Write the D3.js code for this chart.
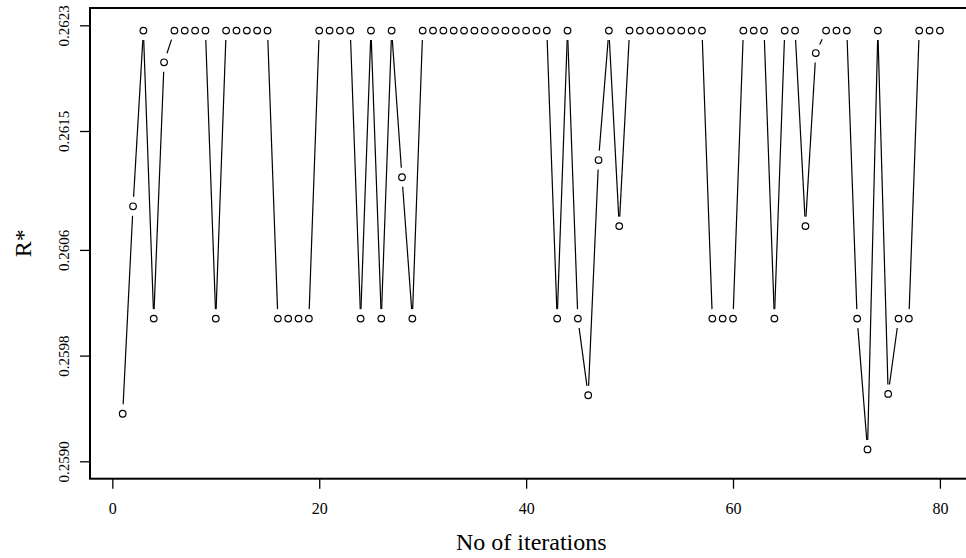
<!DOCTYPE html>
<html>
<head>
<meta charset="utf-8">
<script src="https://cdn.jsdelivr.net/npm/d3@7"></script>
<style>
    body { margin: 0; background: #fff; }
    svg { display: block; }
</style>
</head>
<body>
<svg id="chart" width="966" height="558"></svg>
<script>
// R* value at each iteration
const iterations = d3.range(1, 81);
const rstar = [
    0.25936, 0.26093, 0.26226, 0.26008, 0.26202, 0.26226, 0.26226, 0.26226, 0.26226, 0.26008,
    0.26226, 0.26226, 0.26226, 0.26226, 0.26226, 0.26008, 0.26008, 0.26008, 0.26008, 0.26226,
    0.26226, 0.26226, 0.26226, 0.26008, 0.26226, 0.26008, 0.26226, 0.26115, 0.26008, 0.26226,
    0.26226, 0.26226, 0.26226, 0.26226, 0.26226, 0.26226, 0.26226, 0.26226, 0.26226, 0.26226,
    0.26226, 0.26226, 0.26008, 0.26226, 0.26008, 0.25950, 0.26128, 0.26226, 0.26078, 0.26226,
    0.26226, 0.26226, 0.26226, 0.26226, 0.26226, 0.26226, 0.26226, 0.26008, 0.26008, 0.26008,
    0.26226, 0.26226, 0.26226, 0.26008, 0.26226, 0.26226, 0.26078, 0.26209, 0.26226, 0.26226,
    0.26226, 0.26008, 0.25909, 0.26226, 0.25951, 0.26008, 0.26008, 0.26226, 0.26226, 0.26226
];

const xTicks = [0, 20, 40, 60, 80];
const yTicks = [0.2590, 0.2598, 0.2606, 0.2615, 0.2623];
const yTickLabels = ["0.2590", "0.2598", "0.2606", "0.2615", "0.2623"];

const data = iterations.map((it, i) => ({ x: it, y: rstar[i] }));

const box = { left: 90, right: 972.6, top: 8, bottom: 478.7 };
const serif = '"Liberation Serif"';

const svg = d3.select("#chart");

let x = d3.scaleLinear()
    .domain([-2.16, 83.16])
    .range([box.left, box.right]);

let y = d3.scaleLinear()
    .domain([0.2590, 0.2623])
    .range([461.3, 25.3]);

// plot frame (right side falls outside the picture)
svg.append("rect")
    .attr("x", box.left)
    .attr("y", box.top)
    .attr("width", box.right - box.left)
    .attr("height", box.bottom - box.top)
    .attr("fill", "none")
    .attr("stroke", "#000")
    .attr("stroke-width", 2);

// x axis
let gx = svg.append("g")
    .attr("transform", `translate(0,${box.bottom})`)
    .call(d3.axisBottom(x).tickValues(xTicks).tickSize(10).tickPadding(14).tickFormat(d3.format("d")));
gx.select(".domain").remove();
gx.selectAll(".tick line").attr("stroke", "#000").attr("stroke-width", 1.3);
gx.selectAll(".tick text")
    .attr("fill", "#000")
    .style("font-family", serif)
    .style("font-size", "16px");

// y axis, labels turned to read upwards
let gy = svg.append("g")
    .attr("transform", `translate(${box.left},0)`)
    .call(d3.axisLeft(y).tickValues(yTicks).tickSize(10).tickFormat((d, i) => yTickLabels[i]));
gy.select(".domain").remove();
gy.selectAll(".tick line").attr("stroke", "#000").attr("stroke-width", 1.3);
gy.selectAll(".tick text")
    .attr("x", null)
    .attr("dy", null)
    .attr("fill", "#000")
    .attr("text-anchor", "middle")
    .attr("transform", "translate(-21.5,0) rotate(-90)")
    .style("font-family", serif)
    .style("font-size", "15px");

// type = "b": segments stop short of each point
const gap = 9.5;
let segs = [];
for (let i = 1; i < data.length; i++) {
    const x0 = x(data[i - 1].x), y0 = y(data[i - 1].y);
    const x1 = x(data[i].x), y1 = y(data[i].y);
    const len = Math.hypot(x1 - x0, y1 - y0);
    if (len <= 2 * gap) continue;
    const ux = (x1 - x0) / len, uy = (y1 - y0) / len;
    segs.push({ x1: x0 + ux * gap, y1: y0 + uy * gap, x2: x1 - ux * gap, y2: y1 - uy * gap });
}

svg.append("g")
    .selectAll("line")
    .data(segs)
    .enter()
    .append("line")
    .attr("x1", d => d.x1)
    .attr("y1", d => d.y1)
    .attr("x2", d => d.x2)
    .attr("y2", d => d.y2)
    .attr("stroke", "#000")
    .attr("stroke-width", 1.2);

svg.append("g")
    .selectAll("circle")
    .data(data)
    .enter()
    .append("circle")
    .attr("cx", d => x(d.x))
    .attr("cy", d => y(d.y))
    .attr("r", 3.3)
    .attr("fill", "none")
    .attr("stroke", "#000")
    .attr("stroke-width", 1.2);

// axis titles
svg.append("text")
    .attr("x", (box.left + box.right) / 2)
    .attr("y", 550)
    .attr("text-anchor", "middle")
    .style("font-family", serif)
    .style("font-size", "24px")
    .text("No of iterations");

svg.append("text")
    .attr("transform", `translate(31,${(box.top + box.bottom) / 2}) rotate(-90)`)
    .attr("text-anchor", "middle")
    .style("font-family", serif)
    .style("font-size", "24px")
    .text("R*");
</script>
</body>
</html>
